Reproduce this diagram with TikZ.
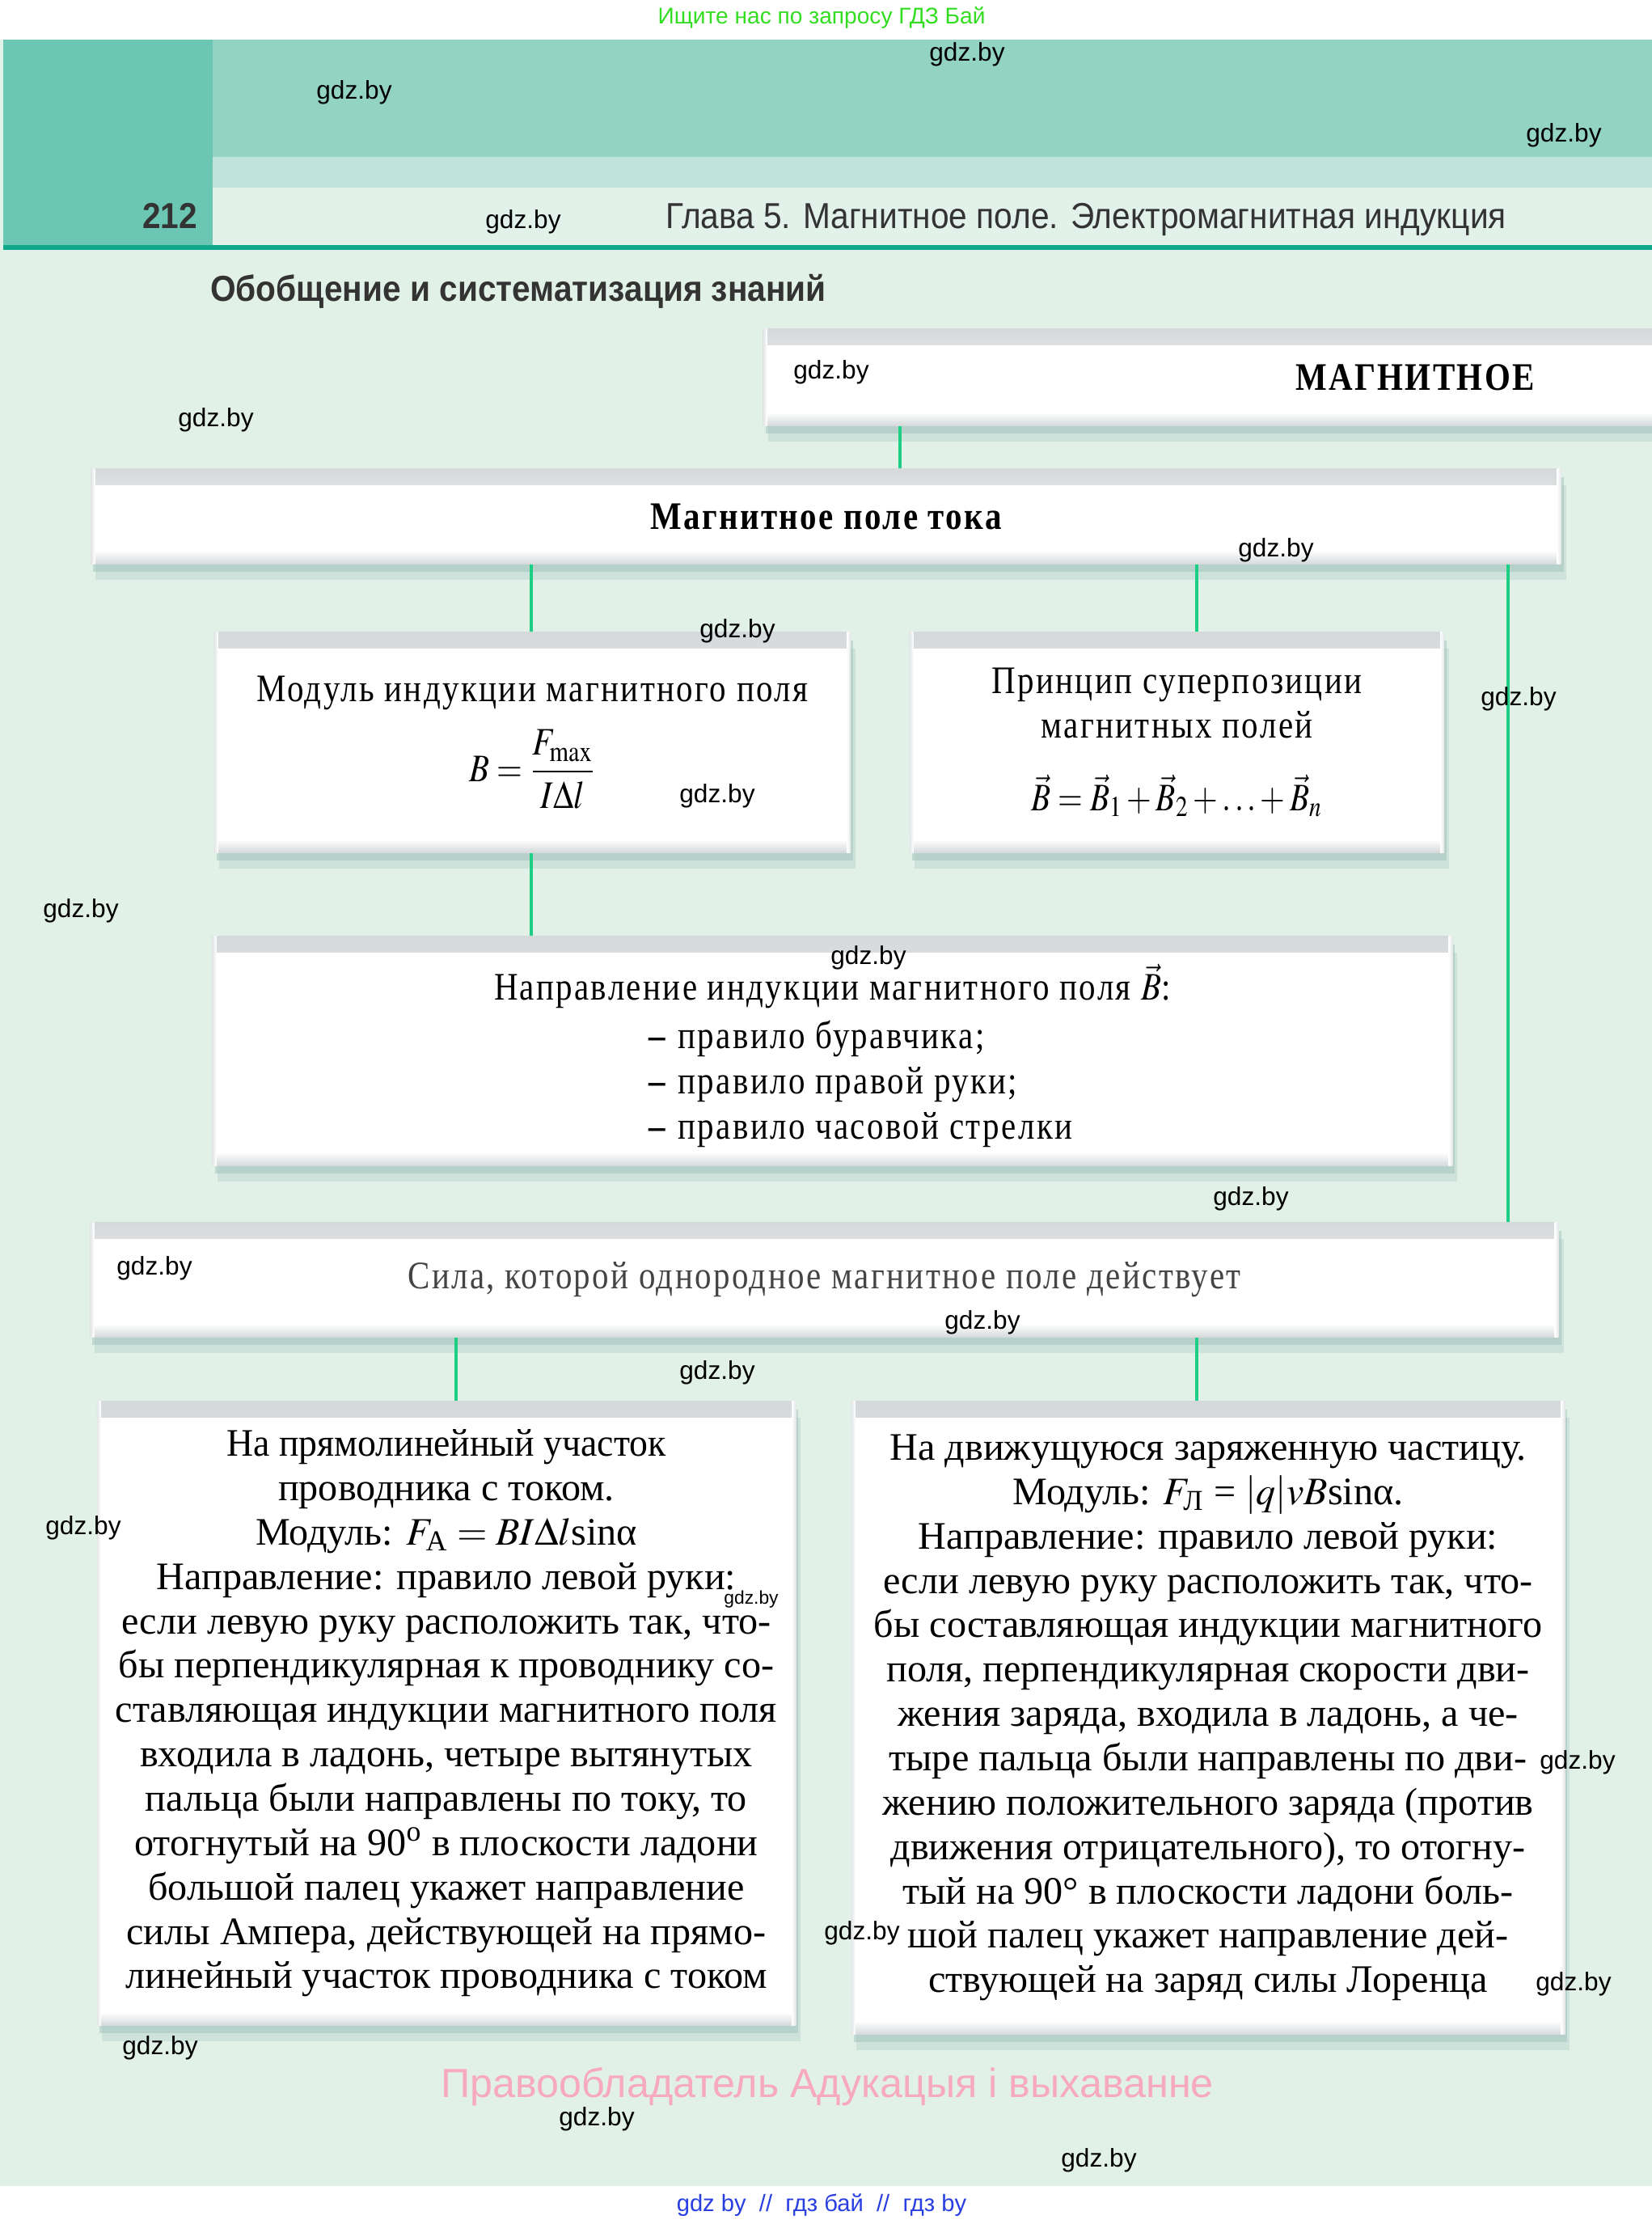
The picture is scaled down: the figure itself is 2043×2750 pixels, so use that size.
\documentclass[tikz,border=0pt]{standalone}
\usepackage{amsmath}
\usepackage{mathptmx}
\usepackage{fontspec}
\setmainfont{Liberation Serif}
\newfontfamily\narrowserif{Liberation Serif}[FakeStretch=0.85, LetterSpace=5]
\newfontfamily\ampserif{Liberation Serif}[FakeStretch=0.95]
\newfontfamily\headsans{Liberation Sans}[FakeStretch=0.91]
\newfontfamily\marksans{Liberation Sans}
\usetikzlibrary{shadows,positioning,calc}
\definecolor{pagebg}{HTML}{E2F1E8}
\definecolor{headdark}{HTML}{6BC7B3}
\definecolor{headmid}{HTML}{93D3C2}
\definecolor{headlight}{HTML}{BFE3D8}
\definecolor{headpale}{HTML}{E2F1EA}
\definecolor{rulecol}{HTML}{0EA88A}
\definecolor{linkcol}{HTML}{1CCF84}
\definecolor{bandgray}{HTML}{D6D9DB}
\definecolor{shadowcol}{HTML}{9FC2BB}
\definecolor{headtext}{HTML}{333333}
\definecolor{silatext}{HTML}{444444}
\definecolor{adgreen}{HTML}{33DD22}
\definecolor{adpink}{HTML}{F7A9BE}
\definecolor{adblue}{HTML}{2A3FE0}
\newcommand\boxfont{\fontsize{13.7}{15.6}\selectfont}

\begin{document}
\begin{tikzpicture}[
  x=0.01cm, y=-0.01cm,
  cardbox/.style={rectangle, fill=white, inner sep=0pt, align=center, font=\boxfont,
    drop shadow={shadow xshift=0.06cm, shadow yshift=-0.2cm, opacity=0.3, fill=shadowcol},
    drop shadow={shadow xshift=0.03cm, shadow yshift=-0.1cm, opacity=0.5, fill=shadowcol},
    path picture={
      \fill[top color=bandgray, bottom color=white] (path picture bounding box.north west) rectangle ([yshift=-0.2cm]path picture bounding box.north east);
      \fill[top color=white, bottom color=bandgray] ([yshift=0.16cm]path picture bounding box.south west) rectangle (path picture bounding box.south east);
      \fill[left color=bandgray!70, right color=white] (path picture bounding box.north west) rectangle ([xshift=0.05cm]path picture bounding box.south west);
      \fill[left color=white, right color=bandgray!70] ([xshift=-0.05cm]path picture bounding box.north east) rectangle (path picture bounding box.south east);
    }},
  link/.style={draw=linkcol, line width=0.9pt},
  wmark/.style={font=\marksans\fontsize{9}{10}\selectfont, inner sep=0pt},
]
\useasboundingbox (0,0) rectangle (2043,2750);
\fill[white] (0,0) rectangle (2043,2750);
\fill[pagebg] (0,49) rectangle (2043,2703);
% header
\fill[headdark] (4,49) rectangle (263,303);
\fill[headmid] (263,49) rectangle (2043,194);
\fill[headlight] (263,194) rectangle (2043,232);
\fill[headpale] (263,232) rectangle (2043,303);
\fill[rulecol] (4,303) rectangle (2043,309);
\node[font=\headsans\bfseries\fontsize{12.7}{14}\selectfont, text=headtext] (pagenum) at (210,267) {212};
\node[font=\headsans\fontsize{12.7}{14}\selectfont, text=headtext] (chapter) at (1343,272) {Глава 5. Магнитное поле. Электромагнитная индукция};
\node[font=\headsans\bfseries\fontsize{12.7}{14}\selectfont, text=headtext] (summary) at (641,360) {Обобщение и систематизация знаний};

% boxes
\node[cardbox, minimum width=16.12cm, minimum height=1.19cm] (magn) at (1750,466.5) {\narrowserif\bfseries МАГНИТНОЕ};
\node[cardbox, minimum width=18.17cm, minimum height=1.17cm] (tok) at (1021.5,638.5) {\narrowserif\bfseries Магнитное поле тока};
\node[cardbox, minimum width=7.87cm, minimum height=2.72cm] (modul) at (658.5,918) {\narrowserif Модуль индукции магнитного поля\\[6pt] \scalebox{0.85}[1]{$B=\dfrac{F_{\max}}{I\Delta l}$}};
\node[cardbox, minimum width=6.61cm, minimum height=2.72cm] (princ) at (1455.5,918) {\narrowserif Принцип суперпозиции\\ \narrowserif магнитных полей\\[10pt] \scalebox{0.82}[1]{$\vec B=\vec B_1+\vec B_2+\ldots+\vec B_n$}};
\node[cardbox, minimum width=15.33cm, minimum height=2.83cm] (napr) at (1029.5,1299.5) {\rule{0pt}{0.62cm}\narrowserif Направление индукции магнитного поля \scalebox{0.85}[1]{$\vec B$}:\\[2pt] \hspace*{0.7cm}\narrowserif\renewcommand\arraystretch{1.02}\begin{tabular}{@{}l@{}}\textbf{–} правило буравчика;\\\textbf{–} правило правой руки;\\\textbf{–} правило часовой стрелки\end{tabular}};
\node[cardbox, minimum width=18.15cm, minimum height=1.41cm, text=silatext] (sila) at (1019.5,1582.5) {\narrowserif Сила, которой однородное магнитное поле действует};
\node[cardbox, minimum width=8.64cm, minimum height=7.71cm] (amper) at (552,2118.5) {\ampserif На прямолинейный участок\\
проводника с током.\\
Модуль: $F_{\text{А}}=BI\Delta l$sinα\\
Направление: правило левой руки:\\
если левую руку расположить так, что-\\
бы перпендикулярная к проводнику со-\\
ставляющая индукции магнитного поля\\
входила в ладонь, четыре вытянутых\\
пальца были направлены по току, то\\
отогнутый на 90\textsuperscript{o} в плоскости ладони\\
большой палец укажет направление\\
силы Ампера, действующей на прямо-\\
линейный участок проводника с током};
\node[cardbox, minimum width=8.82cm, minimum height=7.82cm] (loren) at (1494,2124) {На движущуюся заряженную частицу.\\
Модуль: $F_{\text{Л}}$ = $|q|vB$sinα.\\
Направление: правило левой руки:\\
если левую руку расположить так, что-\\
бы составляющая индукции магнитного\\
поля, перпендикулярная скорости дви-\\
жения заряда, входила в ладонь, а че-\\
тыре пальца были направлены по дви-\\
жению положительного заряда (против\\
движения отрицательного), то отогну-\\
тый на 90° в плоскости ладони боль-\\
шой палец укажет направление дей-\\
ствующей на заряд силы Лоренца};

% connectors
\coordinate (cx1) at (1113,0);
\coordinate (cx2) at (657,0);
\coordinate (cx3) at (1480,0);
\coordinate (cx4) at (1865,0);
\coordinate (cx5) at (564,0);
\draw[link] (magn.south -| cx1) -- (tok.north -| cx1);
\draw[link] (tok.south -| cx2) -- (modul.north -| cx2);
\draw[link] (tok.south -| cx3) -- (princ.north -| cx3);
\draw[link] (tok.south -| cx4) -- (sila.north -| cx4);
\draw[link] (modul.south -| cx2) -- (napr.north -| cx2);
\draw[link] (sila.south -| cx5) -- (amper.north -| cx5);
\draw[link] (sila.south -| cx3) -- (loren.north -| cx3);

% watermarks
\node[font=\marksans\fontsize{8}{9}\selectfont, text=adgreen] (adtop) at (1016,22) {Ищите нас по запросу ГДЗ Бай};
\node[font=\marksans\fontsize{14.3}{16}\selectfont, text=adpink] (rights) at (1023,2580) {Правообладатель Адукацыя і выхаванне};
\node[font=\marksans\fontsize{8.3}{9}\selectfont, text=adblue] (adbottom) at (1016,2727) {gdz by~~//~~гдз бай~~//~~гдз by};
\foreach \wx/\wy [count=\i] in {1196/67, 438/114, 1934/167, 647/274, 1028/460, 267/519, 1578/680, 912/780,
  1878/864, 887/984, 100/1126, 1074/1184, 1547/1482, 191/1568, 1215/1635, 887/1697, 103/1889,
  1951/2179, 1066/2390, 1946/2453, 198/2532, 738/2620, 1359/2671}
  \node[wmark] (wm\i) at (\wx,\wy) {gdz.by};
\node[wmark, font=\marksans\fontsize{6.5}{7}\selectfont] (wmsmall) at (929,1978) {gdz.by};
\end{tikzpicture}
\end{document}
